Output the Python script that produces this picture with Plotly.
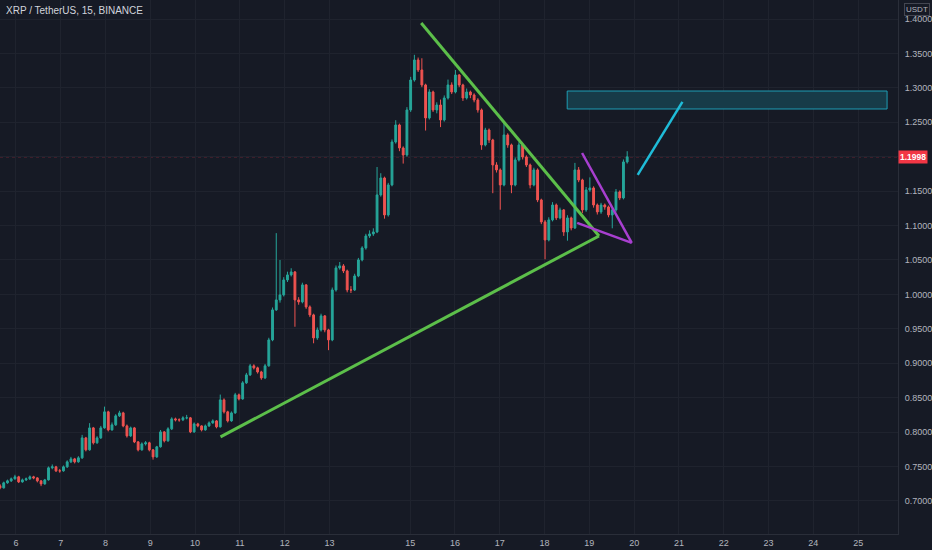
import numpy as np
import plotly.graph_objs as go

# XRP / TetherUS, BINANCE - price, resampled to 2h candles
first_day = 5.645      # day-of-month where the first candle sits
bar_hours = 2
first_open = 0.7220

close = [
    0.7190, 0.7263, 0.7292, 0.7321, 0.7350, 0.7277, 0.7306, 0.7321, 0.7350, 0.7335, 0.7292, 0.7248,
    0.7306, 0.7481, 0.7495, 0.7437, 0.7437, 0.7495, 0.7568, 0.7611, 0.7568, 0.7626, 0.7916, 0.7742,
    0.8061, 0.7844, 0.7916, 0.8061, 0.8294, 0.8032, 0.8105, 0.8236, 0.8279, 0.8090, 0.7945, 0.8061,
    0.7858, 0.7742, 0.7829, 0.7844, 0.7742, 0.7640, 0.7786, 0.8003, 0.7873, 0.8047, 0.8192, 0.8178,
    0.8178, 0.8207, 0.8207, 0.8003, 0.8119, 0.8090, 0.8032, 0.8090, 0.8134, 0.8163, 0.8076, 0.8468,
    0.8294, 0.8163, 0.8279, 0.8541, 0.8482, 0.8715, 0.8831, 0.8962, 0.8933, 0.8874, 0.8787, 0.8962,
    0.9339, 0.9775, 0.9920, 0.9993, 1.0210, 1.0283, 1.0326, 0.9920, 0.9891, 1.0138, 0.9818, 0.9702,
    0.9368, 0.9484, 0.9688, 0.9484, 0.9339, 1.0065, 1.0385, 1.0414, 1.0341, 1.0065, 1.0065, 1.0268,
    1.0501, 1.0675, 1.0849, 1.0878, 1.0907, 1.1445, 1.1691, 1.1154, 1.1590, 1.2214, 1.2461, 1.2127,
    1.2025, 1.2679, 1.3114, 1.3405, 1.3260, 1.3042, 1.2563, 1.2940, 1.2679, 1.2751, 1.2534, 1.2853,
    1.3042, 1.2940, 1.3187, 1.3042, 1.2853, 1.2940, 1.2897, 1.2824, 1.2679, 1.2171, 1.2388, 1.2243,
    1.1880, 1.1808, 1.1590, 1.2316, 1.2171, 1.1590, 1.1953, 1.2171, 1.1996, 1.1880, 1.1590, 1.1808,
    1.1372, 1.1053, 1.0791, 1.1082, 1.1299, 1.1111, 1.1227, 1.0907, 1.1111, 1.0965, 1.1808, 1.1662,
    1.1227, 1.1517, 1.1546, 1.1299, 1.1198, 1.1299, 1.1270, 1.1154, 1.1227, 1.1488, 1.1401, 1.1924, 1.1998,
]

high = [
    0.7245, 0.7280, 0.7310, 0.7340, 0.7380, 0.7365, 0.7325, 0.7340, 0.7370, 0.7365, 0.7345, 0.7300,
    0.7320, 0.7500, 0.7530, 0.7510, 0.7465, 0.7515, 0.7590, 0.7640, 0.7625, 0.7650, 0.7960, 0.7930,
    0.8130, 0.8075, 0.7940, 0.8090, 0.8370, 0.8310, 0.8140, 0.8260, 0.8310, 0.8295, 0.8110, 0.8080,
    0.8075, 0.7870, 0.7850, 0.7870, 0.7860, 0.7755, 0.7800, 0.8030, 0.8015, 0.8070, 0.8215, 0.8210,
    0.8200, 0.8230, 0.8250, 0.8220, 0.8140, 0.8135, 0.8100, 0.8110, 0.8155, 0.8185, 0.8175, 0.8545,
    0.8490, 0.8310, 0.8300, 0.8570, 0.8560, 0.8740, 0.8860, 0.8990, 0.8985, 0.8950, 0.8890, 0.8990,
    0.9370, 0.9810, 1.0890, 1.0500, 1.0250, 1.0330, 1.0380, 1.0340, 0.9960, 1.0170, 1.0150, 0.9840,
    0.9720, 0.9520, 0.9720, 0.9700, 0.9500, 1.0100, 1.0420, 1.0470, 1.0440, 1.0360, 1.0120, 1.0300,
    1.0530, 1.0700, 1.0880, 1.0930, 1.0960, 1.1850, 1.1760, 1.1710, 1.1620, 1.2250, 1.2530, 1.2480,
    1.2150, 1.2720, 1.3160, 1.3480, 1.3440, 1.3430, 1.3060, 1.2980, 1.2960, 1.2790, 1.2830, 1.2890,
    1.3120, 1.3080, 1.3260, 1.3200, 1.3060, 1.2990, 1.2960, 1.2920, 1.2850, 1.2700, 1.2420, 1.2410,
    1.2260, 1.1920, 1.1830, 1.2490, 1.2340, 1.2190, 1.1990, 1.2210, 1.2190, 1.2020, 1.1900, 1.1840,
    1.1830, 1.1390, 1.1080, 1.1120, 1.1340, 1.1320, 1.1260, 1.1240, 1.1150, 1.1130, 1.1910, 1.1850,
    1.1680, 1.1560, 1.1700, 1.1570, 1.1320, 1.1330, 1.1320, 1.1290, 1.1260, 1.1530, 1.1510, 1.1960, 1.2080,
]

low = [
    0.7170, 0.7180, 0.7250, 0.7275, 0.7310, 0.7260, 0.7265, 0.7290, 0.7305, 0.7315, 0.7270, 0.7215,
    0.7235, 0.7295, 0.7460, 0.7420, 0.7410, 0.7425, 0.7480, 0.7550, 0.7545, 0.7555, 0.7610, 0.7720,
    0.7730, 0.7820, 0.7830, 0.7900, 0.8050, 0.8010, 0.8020, 0.8090, 0.8220, 0.8070, 0.7920, 0.7930,
    0.7840, 0.7720, 0.7730, 0.7805, 0.7720, 0.7600, 0.7625, 0.7775, 0.7850, 0.7860, 0.8030, 0.8155,
    0.8150, 0.8160, 0.8185, 0.7985, 0.7990, 0.8070, 0.8010, 0.8020, 0.8075, 0.8120, 0.8055, 0.8065,
    0.8270, 0.8140, 0.8150, 0.8265, 0.8460, 0.8470, 0.8700, 0.8815, 0.8910, 0.8850, 0.8760, 0.8770,
    0.8950, 0.9320, 0.9760, 0.9880, 0.9970, 1.0180, 1.0260, 0.9530, 0.9850, 0.9870, 0.9790, 0.9670,
    0.9290, 0.9340, 0.9460, 0.9450, 0.9190, 0.9320, 1.0040, 1.0360, 1.0310, 1.0030, 1.0020, 1.0050,
    1.0250, 1.0480, 1.0650, 1.0820, 1.0850, 1.0890, 1.1420, 1.1100, 1.1130, 1.1570, 1.2190, 1.2080,
    1.1900, 1.2000, 1.2650, 1.3090, 1.3230, 1.3010, 1.2380, 1.2540, 1.2650, 1.2630, 1.2430, 1.2510,
    1.2830, 1.2910, 1.2920, 1.3010, 1.2810, 1.2830, 1.2850, 1.2790, 1.2640, 1.2100, 1.2150, 1.2200,
    1.1470, 1.1770, 1.1230, 1.1570, 1.2130, 1.1470, 1.1570, 1.1930, 1.1960, 1.1850, 1.1540, 1.1570,
    1.1340, 1.1020, 1.0510, 1.0770, 1.1060, 1.1080, 1.1090, 1.0850, 1.0780, 1.0930, 1.0950, 1.1630,
    1.1180, 1.1200, 1.1490, 1.1260, 1.1160, 1.1170, 1.1230, 1.1120, 1.0960, 1.1200, 1.1370, 1.1380, 1.1900,
]

# each candle opens where the previous one closed
open_ = [first_open] + close[:-1]
t = first_day + np.arange(len(close)) * bar_hours / 24

last_price = 1.1998

# x axis day labels (TradingView skips 14)
day_labels = ["6", "7", "8", "9", "10", "11", "12", "13", "15", "16", "17", "18", "19", "20",
              "21", "22", "23", "24", "25"]
day_pos = [6, 7, 8, 9, 10, 11, 12, 13, 14.8, 15.8, 16.8, 17.8, 18.8, 19.8,
           20.8, 21.8, 22.8, 23.8, 24.8]
price_ticks = [0.70, 0.75, 0.80, 0.85, 0.90, 0.95, 1.00, 1.05, 1.10, 1.15, 1.20, 1.25, 1.30, 1.35, 1.40]
# the 1.2000 label sits under the last-price tag, so it is left blank
price_labels = ["%.4f" % p if abs(p - 1.20) > 1e-9 else "" for p in price_ticks]

# drawings: (day, price) end points
support_line = [(10.567, 0.7930), (19.016, 1.0849)]
resistance_line = [(15.047, 1.3942), (19.016, 1.0849)]
wedge_upper = [(18.638, 1.2054), (19.747, 1.0748)]
wedge_lower = [(18.528, 1.1038), (19.747, 1.0748)]
target_arrow = [(19.880, 1.1735), (20.878, 1.2795)]
target_zone = [(18.306, 1.2693), (25.446, 1.2954)]

bg = "#161a25"
grid = "#1f232e"
axis_txt = "#b2b5be"

fig = go.Figure()
fig.add_trace(go.Candlestick(
    x=t, open=open_, high=high, low=low, close=close,
    increasing=dict(line=dict(color="#26a69a", width=1), fillcolor="#26a69a"),
    decreasing=dict(line=dict(color="#ef5350", width=1), fillcolor="#ef5350"),
    whiskerwidth=0,
    showlegend=False, hoverinfo="skip"))

shapes = []

# last price line
shapes.append(dict(type="line", xref="paper", x0=0, x1=1, yref="y", y0=last_price, y1=last_price,
                   line=dict(color="rgba(242,54,69,0.55)", width=1, dash="dot"), layer="below"))

# target zone
(zx0, zy0), (zx1, zy1) = target_zone
shapes.append(dict(type="rect", x0=zx0, x1=zx1, y0=zy0, y1=zy1,
                   fillcolor="#173b48", line=dict(color="#1e9db4", width=1)))

for pts, col, w in [(support_line, "#5cbf4a", 3), (resistance_line, "#5cbf4a", 3),
                    (wedge_upper, "#a83fd0", 2.5), (wedge_lower, "#a83fd0", 2.5),
                    (target_arrow, "#1fbcd8", 2.5)]:
    (x0, y0), (x1, y1) = pts
    shapes.append(dict(type="line", x0=x0, y0=y0, x1=x1, y1=y1, line=dict(color=col, width=w)))

annotations = [
    dict(text="XRP / TetherUS, 15, BINANCE", xref="paper", yref="paper", x=0.004, y=0.995,
         xanchor="left", yanchor="top", showarrow=False,
         font=dict(family="Liberation Sans", size=10, color="#d1d4dc")),
    dict(text="USDT", xref="paper", yref="paper", x=1.0, y=1.0, xshift=6, yshift=-3,
         xanchor="left", yanchor="top", showarrow=False, bordercolor="#434651", borderwidth=1,
         borderpad=1, font=dict(family="Liberation Sans", size=8, color=axis_txt)),
    dict(text="<b>1.1998</b>", xref="paper", yref="y", x=1.0, y=last_price, xanchor="left",
         showarrow=False, bgcolor="#f23645", borderpad=1,
         font=dict(family="Liberation Sans", size=8.5, color="#ffffff")),
]

fig.update_layout(
    width=932, height=550,
    margin=dict(l=0, r=28, t=0, b=16),
    paper_bgcolor=bg, plot_bgcolor=bg,
    shapes=shapes, annotations=annotations,
    showlegend=False,
    xaxis=dict(range=[5.645, 25.69], tickvals=day_pos, ticktext=day_labels,
               showgrid=True, gridcolor=grid, gridwidth=1, zeroline=False,
               showline=True, linecolor="#2a2e39", ticks="",
               tickfont=dict(family="Liberation Sans", size=9, color=axis_txt),
               rangeslider=dict(visible=False), fixedrange=True),
    yaxis=dict(range=[0.652, 1.4276], side="right", tickvals=price_ticks, ticktext=price_labels,
               showgrid=True, gridcolor=grid, gridwidth=1, zeroline=False,
               showline=True, linecolor="#2a2e39", ticks="outside", ticklen=4, tickcolor=bg,
               tickfont=dict(family="Liberation Sans", size=9, color=axis_txt), fixedrange=True),
)

# drop the page's default body margin so the 932x550 figure fills the window
fig.write_html("out.html", config={"displayModeBar": False},
               post_script="document.body.style.margin='0';document.body.style.overflow='hidden';"
                           "document.body.style.background='" + bg + "';")
